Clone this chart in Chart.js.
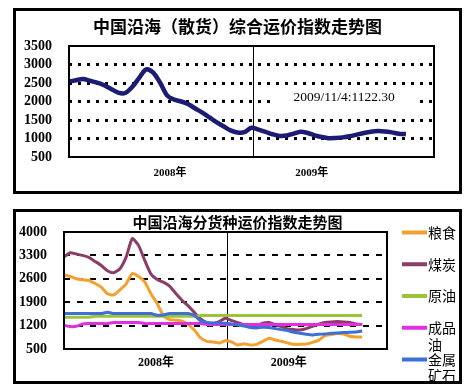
<!DOCTYPE html>
<html><head><meta charset="utf-8">
<script src="https://cdn.jsdelivr.net/npm/chart.js@4.4.1/dist/chart.umd.min.js"></script>
<style>
html,body{margin:0;padding:0;background:#fff;width:465px;height:386px;overflow:hidden}
.box{position:absolute;border:3px solid #000;box-sizing:border-box;background:#fff}
#b1{left:13px;top:8px;width:449px;height:186px}
#b2{left:13px;top:209px;width:449px;height:175px}
canvas{display:block}
</style></head><body>
<div class="box" id="b1"><canvas id="c1" width="443" height="180"></canvas></div>
<div class="box" id="b2"><canvas id="c2" width="443" height="169"></canvas></div>
<script>
// ---- data ----
const yearLabels = ['2008年', '2009年'];
const weeks = [0,2,4,6,8,10,12,14,16,18,20,22,24,26,28,30,32,34,36,38,40,42,44,46,48,50,52,54,56,58,60,62,64,66,68,70,72,74,76,78,80,82,84,86,88,90,92,94,96];
const compositeIndex = [2540,2575,2610,2560,2510,2440,2340,2240,2230,2390,2640,2870,2780,2500,2160,2050,2000,1925,1810,1700,1570,1440,1330,1220,1160,1170,1290,1240,1180,1115,1070,1080,1130,1185,1150,1085,1040,1010,1015,1030,1060,1105,1150,1185,1200,1190,1165,1130,1122];
const compositeNote = '2009/11/4:1122.30';
const seriesNames = ['粮食', '煤炭', '原油', '成品油', '金属矿石'];
const grain = [2720,2670,2600,2570,2550,2460,2350,2150,2120,2270,2450,2760,2670,2510,2150,1860,1500,1380,1360,1330,1230,1060,830,730,710,680,750,710,620,660,620,640,730,820,770,730,680,640,640,650,700,760,900,930,960,950,880,860,860];
const coal = [3250,3380,3340,3300,3240,3120,3000,2840,2780,2900,3250,3800,3600,3150,2740,2580,2500,2380,2160,1960,1790,1590,1400,1290,1260,1320,1420,1350,1290,1220,1180,1200,1270,1290,1230,1170,1100,1080,1070,1110,1180,1240,1290,1310,1320,1310,1290,1250,1230];
const crudeOil = [1450,1450,1450,1450,1450,1480,1480,1480,1480,1480,1480,1480,1480,1480,1480,1480,1480,1480,1480,1480,1480,1480,1500,1500,1500,1500,1500,1500,1500,1500,1500,1500,1500,1500,1500,1500,1500,1500,1500,1500,1500,1500,1500,1500,1500,1500,1500,1500,1500];
const productOil = [1210,1170,1180,1250,1260,1260,1260,1260,1290,1290,1290,1290,1290,1260,1260,1260,1260,1260,1260,1260,1260,1260,1260,1230,1230,1230,1230,1230,1230,1230,1230,1230,1230,1230,1230,1230,1230,1230,1230,1230,1230,1230,1230,1230,1230,1230,1230,1230,1230];
const metalOre = [1560,1560,1560,1560,1560,1560,1560,1600,1560,1560,1560,1560,1560,1560,1560,1510,1520,1560,1560,1560,1560,1500,1340,1290,1280,1280,1270,1250,1220,1190,1140,1130,1150,1140,1110,1080,1050,1000,970,940,920,940,950,970,980,990,1000,1010,1040];
const seriesColors = ['#F2A02E', '#8B3D68', '#9DC23B', '#E030E0', '#3D6FD6'];

// ---- helpers ----
const pts = vals => vals.map((v, i) => ({x: weeks[i], y: v}));
const transparent = 'rgba(0,0,0,0)';
const frame = {
  id: 'frame',
  afterDatasetsDraw(chart) {
    const {ctx, chartArea: a} = chart;
    ctx.save();
    ctx.strokeStyle = '#000';
    ctx.lineWidth = 2;
    ctx.strokeRect(a.left, a.top, a.right - a.left, a.bottom - a.top);
    ctx.restore();
  }
};
const labelFont = {family: '"Liberation Serif", "Noto Sans CJK SC"', weight: 'bold'};

function xAxis(tickVals, pad, size, height) {
  return {
    type: 'linear', min: 0, max: 104,
    afterBuildTicks: ax => { ax.ticks = tickVals.map(v => ({value: v})); },
    ticks: {autoSkip: false, maxRotation: 0, padding: pad, color: '#000',
      font: Object.assign({size: size}, labelFont),
      callback: (v, i) => i === 0 ? yearLabels[0] : (i === 2 ? yearLabels[1] : '')},
    grid: {drawTicks: false, lineWidth: 1, color: c => c.index === 1 ? '#000' : transparent},
    border: {display: false},
    afterFit: s => { s.height = height; s.paddingLeft = 0; s.paddingRight = 0; }
  };
}
function yAxis(min, max, step, width, lw, dash) {
  return {
    min: min, max: max,
    ticks: {stepSize: step, autoSkip: false, padding: 17, color: '#000',
      font: Object.assign({size: 14}, labelFont), callback: v => String(v)},
    grid: {drawTicks: false, lineWidth: lw,
      color: c => (c.tick && c.tick.value > min && c.tick.value < max) ? '#000' : transparent},
    border: {display: false, dash: dash},
    afterFit: s => { s.width = width; s.paddingTop = 8; s.paddingBottom = 8; }
  };
}
function reserve(width) {
  return {position: 'right', display: true, ticks: {display: false},
    grid: {display: false, drawTicks: false}, border: {display: false},
    afterFit: s => { s.width = width; s.paddingTop = 0; s.paddingBottom = 0; }};
}

// ---- top chart ----
const note = {
  id: 'note',
  afterDraw(chart) {
    const {ctx, scales: {x, y}} = chart;
    const cx = x.getPixelForValue(78.4), cy = y.getPixelForValue(2100);
    ctx.save();
    ctx.fillStyle = '#fff';
    ctx.fillRect(cx - 72, cy - 8, 144, 16);
    ctx.fillStyle = '#000';
    ctx.font = '13.5px "Liberation Serif"';
    ctx.textAlign = 'center';
    ctx.textBaseline = 'middle';
    ctx.fillText(compositeNote, cx, cy);
    ctx.restore();
  }
};
new Chart(document.getElementById('c1'), {
  type: 'line',
  data: {datasets: [{
    label: '综合运价指数', data: pts(compositeIndex),
    borderColor: '#1c1c74', borderWidth: 4.5, pointRadius: 0, tension: 0.3
  }]},
  options: {
    responsive: false, animation: false, devicePixelRatio: 1,
    layout: {padding: 0},
    plugins: {
      legend: {display: false}, tooltip: {enabled: false},
      title: {display: true, text: '中国沿海（散货）综合运价指数走势图', color: '#000',
        font: {family: '"Noto Sans CJK SC"', size: 17, weight: 'bold', lineHeight: 1.2},
        padding: {top: 5, bottom: 9.6}}
    },
    scales: {
      x: xAxis([28.8, 52.5, 69.2], 10, 11, 34),
      y: yAxis(500, 3500, 500, 53, 3, [3, 6]),
      yR: reserve(25)
    }
  },
  plugins: [frame, note]
});

// ---- bottom chart ----
const sideLegend = {
  id: 'sideLegend',
  afterDraw(chart) {
    const {ctx, chartArea: a} = chart;
    ctx.save();
    ctx.font = '14px "Noto Sans CJK SC"';
    ctx.textBaseline = 'middle';
    ctx.textAlign = 'left';
    chart.data.datasets.forEach((ds, i) => {
      const yc = a.top + 0.5 + i * 31.75;
      const x0 = a.right + 15;
      ctx.strokeStyle = ds.borderColor;
      ctx.lineWidth = 4;
      ctx.beginPath(); ctx.moveTo(x0, yc); ctx.lineTo(x0 + 25, yc); ctx.stroke();
      ctx.fillStyle = '#000';
      const t = ds.label;
      for (let j = 0; j * 2 < t.length; j++) {
        ctx.fillText(t.slice(j * 2, j * 2 + 2), x0 + 26, yc + j * 16.5);
      }
    });
    ctx.restore();
  }
};
const seriesData = [grain, coal, crudeOil, productOil, metalOre];
new Chart(document.getElementById('c2'), {
  type: 'line',
  data: {datasets: seriesData.map((d, i) => ({
    label: seriesNames[i], data: pts(d), borderColor: seriesColors[i],
    borderWidth: 3, pointRadius: 0, tension: 0.2, order: 5 - i
  }))},
  options: {
    responsive: false, animation: false, devicePixelRatio: 1,
    layout: {padding: 0},
    plugins: {
      legend: {display: false}, tooltip: {enabled: false},
      title: {display: true, text: '中国沿海分货种运价指数走势图', color: '#000',
        font: {family: '"Noto Sans CJK SC"', size: 15, weight: 'bold', lineHeight: 1.2},
        padding: {top: 1, bottom: 1}}
    },
    scales: {
      x: xAxis([29.6, 52.5, 72.4], 7, 12, 32),
      y: yAxis(500, 4000, 700, 48, 2, [6, 7]),
      yR: reserve(72)
    }
  },
  plugins: [frame, sideLegend]
});
</script>
</body></html>
